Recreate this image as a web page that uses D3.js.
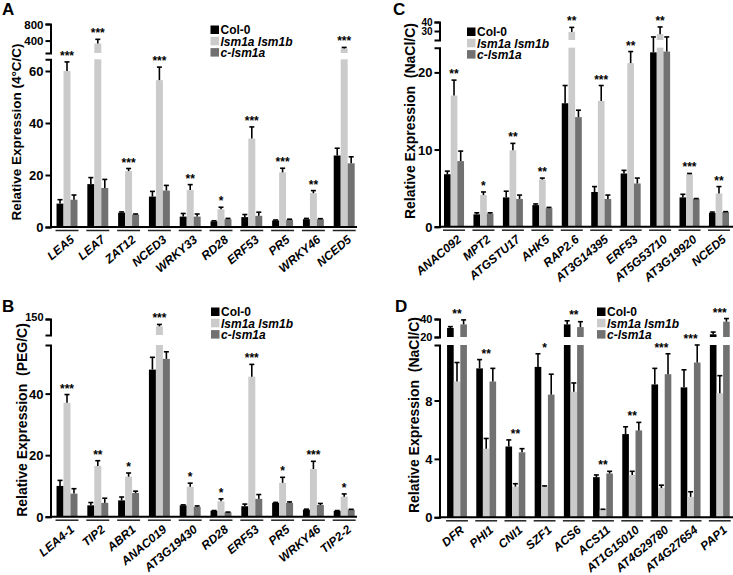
<!DOCTYPE html>
<html><head><meta charset="utf-8">
<script src="https://cdn.jsdelivr.net/npm/d3@7"></script>
<style>
body{margin:0;background:#fff}
svg{display:block}
text{font-family:"Liberation Sans",Arial,Helvetica,sans-serif;font-weight:bold;fill:#000}
</style>
</head><body>
<svg id="chart" width="733" height="575"></svg>
<script>
// ---------- data ----------
const seriesNames = ["Col-0", "lsm1a lsm1b", "c-lsm1a"];

// Panel A (4°C/C)
const catsA = ["LEA5","LEA7","ZAT12","NCED3","WRKY33","RD28","ERF53","PR5","WRKY46","NCED5"];
const colA     = [9, 16.5, 5.5, 11.7, 4, 2.2, 3.8, 2.5, 3, 27.5];
const colErrA  = [1.5, 2.5, 0.3, 2, 1.2, 0.2, 1, 0.2, 0.3, 2.8];
const lsmA     = [60, 330, 21.5, 56.5, 14.2, 6.8, 34, 21, 13, 210];
const lsmErrA  = [3.5, 100, 1, 5, 2.1, 0.8, 4.5, 1.6, 1, 25];
const clsmA    = [10.5, 15, 4.8, 14, 4, 3, 4.3, 2.8, 3, 24.5];
const clsmErrA = [1.8, 3.3, 0.2, 2, 1, 0.3, 1.4, 0.2, 0.2, 2.5];
const starsA   = ["***","***","***","***","**","*","***","***","**","***"];
const ticksLowA = [0, 20, 40, 60];
const ticksUpA  = [400, 800];

// Panel B (PEG/C)
const catsB = ["LEA4-1","TIP2","ABR1","ANAC019","AT3G19430","RD28","ERF53","PR5","WRKY46","TIP2-2"];
const colB     = [10, 3.7, 5.3, 47.8, 3.7, 1.9, 3.4, 4.5, 2.3, 1.9];
const colErrB  = [1.8, 0.9, 1.1, 4, 0.15, 0.1, 0.7, 0.15, 0.15, 0.1];
const lsmB     = [37, 16.5, 13, 127, 9.7, 5, 45.5, 11, 15.5, 6.5];
const lsmErrB  = [2.7, 1.7, 1.2, 6, 1.2, 0.8, 4, 1.8, 2.5, 0.9];
const clsmB    = [7.5, 4.5, 7.7, 51.3, 3.2, 1.4, 5.8, 4.5, 3.8, 2.3];
const clsmErrB = [1.6, 1.5, 0.6, 2.3, 0.3, 0.1, 1.4, 0.3, 0.5, 0.1];
const starsB   = ["***","**","*","***","*","*","***","*","***","*"];
const ticksLowB = [0, 20, 40];
const ticksUpB  = [150];

// Panel C (NaCl/C)
const catsC = ["ANAC092","MPT2","ATGSTU17","AHK5","RAP2.6","AT3G14395","ERF53","AT5G53710","AT3G19920","NCED5"];
const colC     = [6.8, 1.6, 3.8, 2.8, 16, 4.5, 6.9, 22.6, 3.8, 1.8];
const colErrC  = [0.4, 0.2, 0.8, 0.15, 2.3, 0.7, 0.4, 0.8, 0.4, 0.1];
const lsmC     = [17, 4.1, 9.9, 6.1, 29, 16.3, 21.2, 26.5, 6.8, 4.3];
const lsmErrC  = [2, 0.4, 0.9, 0.2, 5, 2, 1.5, 8, 0.1, 0.9];
const clsmC    = [8.5, 1.7, 3.6, 2.4, 14.2, 3.6, 5.6, 22.7, 3.6, 1.9];
const clsmErrC = [1.3, 0.1, 0.5, 0.1, 0.9, 0.5, 0.7, 0.7, 0.05, 0.05];
const starsC   = ["**","*","**","**","**","***","**","**","***","**"];
const ticksLowC = [0, 10, 20];
const ticksUpC  = [30, 40];

// Panel D (NaCl/C)
const catsD = ["DFR","PHI1","CNI1","SZF1","ACS6","ACS11","AT1G15010","AT4G29780","AT4G27654","PAP1"];
const colD     = [30, 10.2, 4.85, 10.3, 34, 2.75, 5.7, 9.1, 8.9, 23];
const colErrD  = [1.5, 0.6, 0.45, 0.9, 4, 0.15, 0.5, 1.1, 1.2, 2.5];
const lsmD     = [9.3, 4.7, 2.1, 2.1, 8.6, 0.5, 2.9, 2.0, 1.4, 8.5];
const lsmErrD  = [1.3, 0.7, 0.2, 0.05, 0.6, 0.05, 0.25, 0.2, 0.35, 1.2];
const clsmD    = [34, 9.3, 4.45, 8.4, 31, 3.0, 5.95, 9.8, 10.6, 37];
const clsmErrD = [5, 0.9, 0.25, 1.4, 6, 0.15, 0.55, 1.4, 1.2, 3.5];
const starsD   = ["**","**","**","*","**","**","**","***","***","***"];
const ticksLowD = [0, 4, 8];
const ticksUpD  = [20, 40];

// ---------- styles ----------
const colors = ["#000000", "#cbcbcb", "#717171"];
const svg = d3.select("#chart");

function drawPanel(p, d) {
  const g = svg.append("g");
  const x0 = d3.scaleBand().domain(d.cats).range(p.xRange).paddingInner(0.32).paddingOuter(0.16);
  const x1 = d3.scaleBand().domain([0,1,2]).range([0, x0.bandwidth()]);
  const yLow = d3.scaleLinear().domain(p.lowDomain).range(p.lowRange);
  const yUp = d3.scaleLinear().domain(p.upDomain).range(p.upRange);
  const lowMax = p.lowDomain[1];
  const ym = v => v <= lowMax ? yLow(v) : (v >= p.upDomain[0] ? yUp(v) : yLow(lowMax));
  const series = [[d.col, d.colErr], [d.lsm, d.lsmErr], [d.clsm, d.clsmErr]];

  d.cats.forEach((c, i) => {
    let maxTop = 0;
    series.forEach((s, j) => {
      const v = s[0][i], e = s[1][i];
      const bx = x0(c) + x1(j), bw = x1.bandwidth();
      const top = Math.min(v, lowMax);
      g.append("rect").attr("x", bx).attr("width", bw)
        .attr("y", yLow(top)).attr("height", yLow(0) - yLow(top)).attr("fill", colors[j]);
      if (v > lowMax) {
        g.append("rect").attr("x", bx).attr("width", bw)
          .attr("y", yUp(v)).attr("height", yUp(p.upDomain[0]) - yUp(v)).attr("fill", colors[j]);
      }
      const cx = bx + bw / 2;
      g.append("line").attr("x1", cx).attr("x2", cx).attr("y1", ym(v)).attr("y2", ym(v + e))
        .attr("stroke", "#000").attr("stroke-width", 1.6);
      g.append("line").attr("x1", cx - 2.5).attr("x2", cx + 2.5).attr("y1", ym(v + e)).attr("y2", ym(v + e))
        .attr("stroke", "#000").attr("stroke-width", 1.6);
      maxTop = Math.max(maxTop, v + e);
    });
    g.append("text").attr("x", x0(c) + x0.bandwidth() / 2).attr("y", ym(maxTop) - 2)
      .attr("text-anchor", "middle").attr("font-size", 12).text(d.stars[i]);
    // underline
    g.append("line").attr("x1", x0(c) - 1).attr("x2", x0(c) + x0.bandwidth() + 1)
      .attr("y1", yLow(0) + 3.5).attr("y2", yLow(0) + 3.5).attr("stroke", "#222").attr("stroke-width", 1.5);
  });

  // baseline
  g.append("line").attr("x1", p.axisX).attr("x2", p.xEnd).attr("y1", yLow(0)).attr("y2", yLow(0))
    .attr("stroke", "#000").attr("stroke-width", 2);

  // x labels via axis
  const xa = g.append("g").attr("transform", `translate(0,${yLow(0)})`)
    .call(d3.axisBottom(x0).tickSize(0).tickSizeOuter(0));
  xa.select(".domain").remove();
  xa.selectAll(".tick text")
    .attr("y", 0).attr("dy", 0)
    .attr("transform", `translate(${p.lblDx},${p.lblDy}) rotate(-40)`)
    .attr("text-anchor", "end").attr("font-size", 12).attr("font-style", "italic")
    .attr("font-family", "'Liberation Sans',Arial,sans-serif").attr("font-weight", "bold").attr("fill", "#000");

  // y axes
  const styleAxis = (sel, fs, dy) => {
    sel.select(".domain").attr("stroke", "#000").attr("stroke-width", 2);
    sel.selectAll(".tick line").attr("stroke", "#000").attr("stroke-width", 2);
    sel.selectAll(".tick text").attr("font-size", fs).attr("font-weight", "bold")
      .attr("font-family", "'Liberation Sans',Arial,sans-serif").attr("fill", "#000").attr("x", -7)
      .attr("dy", dy);
  };
  g.append("g").attr("transform", `translate(${p.axisX},0)`)
    .call(d3.axisLeft(yLow).tickValues(d.ticksLow).tickSize(5).tickSizeOuter(5).tickFormat(d3.format("d")))
    .call(styleAxis, 13, "0.35em");
  g.append("g").attr("transform", `translate(${p.axisX},0)`)
    .call(d3.axisLeft(yUp).tickValues(d.ticksUp).tickSize(5).tickSizeOuter(5).tickFormat(d3.format("d")))
    .call(styleAxis, p.upFont, p.upDy);

  // y title
  g.append("text").attr("transform", `translate(${p.titleX},${p.titleY}) rotate(-90)`)
    .attr("text-anchor", "middle").attr("font-size", p.titleSize).style("white-space", "pre").text(p.title);

  // panel letter
  g.append("text").attr("x", p.letterX).attr("y", p.letterY).attr("font-size", 17).text(p.letter);

  // legend
  seriesNames.forEach((n, j) => {
    const ry = p.legY + j * 11.3;
    g.append("rect").attr("x", p.legX).attr("y", ry - 4.5).attr("width", 8.5).attr("height", 8.5).attr("fill", colors[j]);
    g.append("text").attr("x", p.legX + 10).attr("y", ry).attr("dy", "0.35em").attr("font-size", 12)
      .attr("font-style", j === 0 ? "normal" : "italic").text(n);
  });
}

drawPanel(
  {axisX: 50.5, xRange: [51.6, 359.6], xEnd: 357, lowDomain: [0, 64.5], lowRange: [227, 59.3],
   upDomain: [100, 800], upRange: [53, 24], lblDx: 8, lblDy: 14, upFont: 11.5, upDy: "0.35em",
   title: "Relative Expression (4°C/C)", titleX: 21, titleY: 132, titleSize: 13.5,
   letter: "A", letterX: 2, letterY: 15, legX: 210.5, legY: 30},
  {cats: catsA, col: colA, colErr: colErrA, lsm: lsmA, lsmErr: lsmErrA, clsm: clsmA, clsmErr: clsmErrA,
   stars: starsA, ticksLow: ticksLowA, ticksUp: ticksUpA});

drawPanel(
  {axisX: 50.5, xRange: [51.6, 359.6], xEnd: 357, lowDomain: [0, 55.8], lowRange: [516.7, 345],
   upDomain: [100, 150], upRange: [335, 319], lblDx: 8, lblDy: 14, upFont: 11, upDy: "0.1em",
   title: "Relative Expression  (PEG/C)", titleX: 27, titleY: 420, titleSize: 14,
   letter: "B", letterX: 2, letterY: 312, legX: 211, legY: 312},
  {cats: catsB, col: colB, colErr: colErrB, lsm: lsmB, lsmErr: lsmErrB, clsm: clsmB, clsmErr: clsmErrB,
   stars: starsB, ticksLow: ticksLowB, ticksUp: ticksUpB});

drawPanel(
  {axisX: 439.5, xRange: [439.3, 733.7], xEnd: 733, lowDomain: [0, 23.2], lowRange: [226.7, 47.7],
   upDomain: [20, 40], upRange: [40, 22], lblDx: 8, lblDy: 14, upFont: 10, upDy: "0.35em",
   title: "Relative Expression  (NaCl/C)", titleX: 415, titleY: 121, titleSize: 14,
   letter: "C", letterX: 393, letterY: 15, legX: 467, legY: 32},
  {cats: catsC, col: colC, colErr: colErrC, lsm: lsmC, lsmErr: lsmErrC, clsm: clsmC, clsmErr: clsmErrC,
   stars: starsC, ticksLow: ticksLowC, ticksUp: ticksUpC});

drawPanel(
  {axisX: 439.5, xRange: [442.4, 734.4], xEnd: 733, lowDomain: [0, 11.8], lowRange: [517.3, 345],
   upDomain: [20, 40], upRange: [337, 319], lblDx: 8, lblDy: 14, upFont: 11, upDy: "0.35em",
   title: "Relative Expression  (NaCl/C)", titleX: 419, titleY: 415, titleSize: 14,
   letter: "D", letterX: 395, letterY: 312, legX: 597, legY: 312},
  {cats: catsD, col: colD, colErr: colErrD, lsm: lsmD, lsmErr: lsmErrD, clsm: clsmD, clsmErr: clsmErrD,
   stars: starsD, ticksLow: ticksLowD, ticksUp: ticksUpD});
</script>
</body></html>
